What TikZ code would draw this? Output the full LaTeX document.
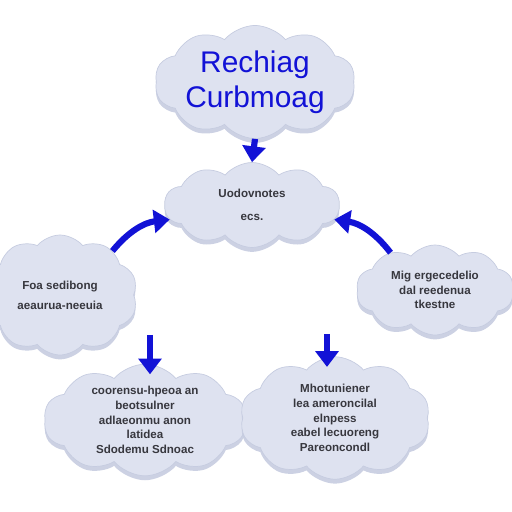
\documentclass[tikz,border=0pt]{standalone}
\usepackage{fontspec}
\setmainfont{Liberation Sans}
\usetikzlibrary{shapes.symbols,arrows.meta,positioning,shadows}

\definecolor{cloudfill}{RGB}{222,226,240}
\definecolor{cloudedge}{RGB}{198,204,224}
\definecolor{arrowblue}{RGB}{18,18,214}
\definecolor{textgray}{RGB}{55,55,62}

\begin{document}
\begin{tikzpicture}[
  cloudbox/.style={cloud, cloud puffs=10, cloud puff arc=100, cloud ignores aspect, fill=cloudfill, draw=cloudedge, line width=0.4pt, align=center, text=textgray, font=\bfseries\fontsize{6.6}{8.3}\selectfont, inner sep=0pt, drop shadow={shadow xshift=0pt, shadow yshift=-2.5pt, fill=cloudedge, opacity=0.9}},
  arr/.style={-{Triangle[width=13pt,length=9pt]}, line width=3.5pt, arrowblue}
]
\useasboundingbox (0,0) rectangle (10.24,10.24);
\clip (0,0) rectangle (10.24,10.24);

\node[cloudbox, minimum width=3.15cm, minimum height=1.4cm, text=arrowblue, font=\fontsize{17}{20}\selectfont] (topic) at (5.10,8.60) {Rechiag\\Curbmoag};
\node[cloudbox, minimum width=3.5cm, minimum height=1.7cm] (hub) at (5.04,6.14) {Uodovnotes\\[5pt]ecs.};
\node[cloudbox, minimum width=3.1cm, minimum height=2.4cm] (lft) at (1.20,4.34) {Foa sedibong\\[3pt]aeaurua-neeuia};
\node[cloudbox, minimum width=3.15cm, minimum height=1.8cm] (rgt) at (8.70,4.44) {Mig ergecedelio\\dal reedenua\\tkestne};
\node[cloudbox, minimum width=4.05cm, minimum height=1.6cm] (botl) at (2.90,1.84) {coorensu-hpeoa an\\beotsulner\\adlaeonmu anon\\latidea\\Sdodemu Sdnoac};
\node[cloudbox, minimum width=3.8cm, minimum height=2.45cm] (botr) at (6.70,1.88) {Mhotuniener\\lea ameroncilal\\elnpess\\eabel lecuoreng\\Pareoncondl};

\coordinate (dropl) at (3.00,3.54);
\coordinate (dropr) at (6.54,3.56);

\draw[arr] (topic.south) -- (hub.north);
\draw[arr] (lft.40) to[bend left=22] (hub.190);
\draw[arr] (rgt.140) to[bend right=22] (hub.350);
\draw[arr, shorten >=-6pt] (dropl) -- (dropl |- botl.north);
\draw[arr, shorten >=-6pt] (dropr) -- (dropr |- botr.north);
\end{tikzpicture}
\end{document}
